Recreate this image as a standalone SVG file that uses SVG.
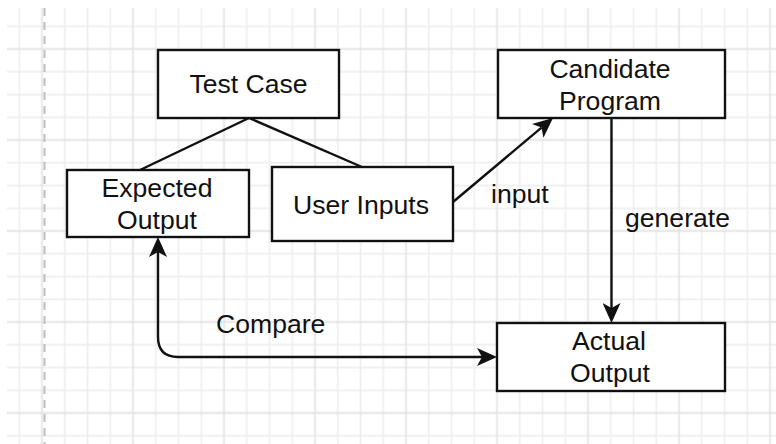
<svg xmlns="http://www.w3.org/2000/svg" width="776" height="444" viewBox="0 0 776 444">
  <style>
    .box { fill: #ffffff; stroke: #111111; stroke-width: 2.4; }
    .lbl { font-family: "Liberation Sans", Arial, Helvetica, sans-serif; font-size: 26.6px; fill: #111111; text-anchor: middle; }
    .elbl { font-family: "Liberation Sans", Arial, Helvetica, sans-serif; font-size: 26.6px; fill: #111111; }
    .edge { fill: none; stroke: #111111; stroke-width: 2.4; }
    .arrow { marker-end: url(#head); }
  </style>
  <defs>
    <!-- canvas grid: minor lines every 22.75px, major every 91px -->
    <pattern id="grid" patternUnits="userSpaceOnUse" x="121.625" y="37.625" width="91" height="91">
      <g stroke="#eeeeee" stroke-width="1.6">
        <line x1="34.125" y1="0" x2="34.125" y2="91"/>
        <line x1="56.875" y1="0" x2="56.875" y2="91"/>
        <line x1="79.625" y1="0" x2="79.625" y2="91"/>
        <line x1="0" y1="34.125" x2="91" y2="34.125"/>
        <line x1="0" y1="56.875" x2="91" y2="56.875"/>
        <line x1="0" y1="79.625" x2="91" y2="79.625"/>
      </g>
      <g stroke="#e2e2e2" stroke-width="1.6">
        <line x1="11.375" y1="0" x2="11.375" y2="91"/>
        <line x1="0" y1="11.375" x2="91" y2="11.375"/>
      </g>
    </pattern>
    <marker id="head" markerUnits="userSpaceOnUse" viewBox="0 0 20 18" markerWidth="20" markerHeight="18" refX="5" refY="9" orient="auto-start-reverse">
      <path d="M0,0 L20,9 L0,18 L5,9 Z" fill="#111111"/>
    </marker>
  </defs>

  <rect x="0" y="0" width="776" height="444" fill="#ffffff"/>
  <rect x="7" y="8" width="769" height="436" fill="url(#grid)"/>
  <line x1="44.5" y1="8" x2="44.5" y2="444" stroke="#bdbdbd" stroke-width="2" stroke-dasharray="8 6"/>

  <g id="connectors">
    <line class="edge" x1="249" y1="118" x2="140" y2="170"/>
    <line class="edge" x1="249" y1="118" x2="362" y2="167"/>
    <line class="edge arrow" x1="453" y1="202" x2="541.5" y2="127.6"/>
    <line class="edge arrow" x1="611.5" y1="118" x2="611.5" y2="308"/>
    <path class="edge" d="M158,252 L158,337 Q158,357 178,357 L482,357" marker-start="url(#head)" marker-end="url(#head)"/>
  </g>

  <g id="labels">
    <text class="elbl" x="491" y="203">input</text>
    <text class="elbl" x="625" y="227">generate</text>
    <text class="elbl" x="216" y="333">Compare</text>
  </g>

  <g id="test-case">
    <rect class="box" x="158" y="50" width="181" height="68"/>
    <text class="lbl" x="248.5" y="93">Test Case</text>
  </g>

  <g id="expected-output">
    <rect class="box" x="67" y="170" width="182" height="67"/>
    <text class="lbl" x="157" y="197">Expected</text>
    <text class="lbl" x="157" y="228.5">Output</text>
  </g>

  <g id="user-inputs">
    <rect class="box" x="272" y="167" width="181" height="74"/>
    <text class="lbl" x="361" y="213.5">User Inputs</text>
  </g>

  <g id="candidate-program">
    <rect class="box" x="498" y="50" width="227" height="68"/>
    <text class="lbl" x="610" y="77.5">Candidate</text>
    <text class="lbl" x="610" y="109.5">Program</text>
  </g>

  <g id="actual-output">
    <rect class="box" x="497" y="323" width="228" height="68"/>
    <text class="lbl" x="609" y="350">Actual</text>
    <text class="lbl" x="610" y="382">Output</text>
  </g>
</svg>
